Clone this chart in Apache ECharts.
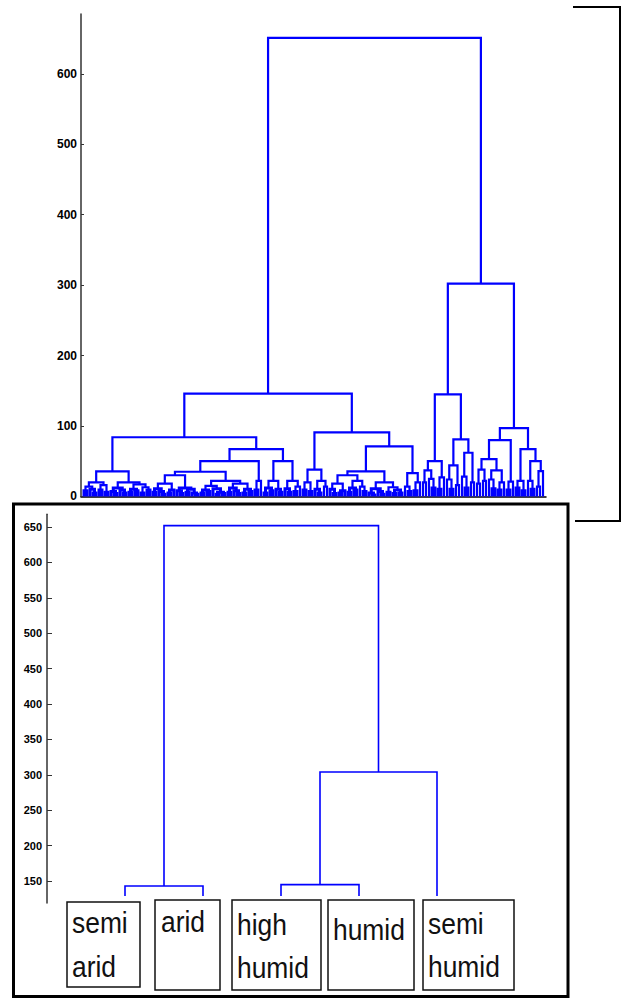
<!DOCTYPE html>
<html>
<head>
<meta charset="utf-8">
<script src="https://cdn.jsdelivr.net/npm/echarts@6/dist/echarts.min.js"></script>
<style>
html,body{margin:0;padding:0;background:#fff;}
#chart{width:630px;height:998px;}
</style>
</head>
<body>
<div id="chart"></div>
<script>
// ---------------- DATA ----------------
// Tree nodes: [mergeHeight, leftChild, rightChild]; a leaf is 0.
// Upper panel: full dendrogram (154 leaves), heights.
const clusterLLL = [35.5,
  [20, [14, [8, 0, 0], [10, 0, [5, 0, 0]]], [16, [9, 0, 0], [6, 0, 0]]],
  [20, [12, [7, 0, [4, 0, 0]], [9, 0, [5, 0, 0]]], [17, [10, [6, 0, 0], [8, 0, 0]], [13, [5, 0, 0], [9, 0, 0]]]]
];
const cluster176 = [30,
  [18, [11, [6, 0, 0], [7, 0, [3, 0, 0]]], [9, [5, 0, 0], 0]],
  [12, [8, 0, [4, 0, 0]], [10, [6, 0, 0], [5, 0, [3, 0, 0]]]]
];
const cluster230 = [22,
  [15, [9, [5, 0, 0], [7, 0, 0]], [11, 0, [6, [3, 0, 0], [4, 0, 0]]]],
  [18, [12, [6, 0, 0], [8, 0, [4, 0, 0]]], [10, [5, 0, 0], [7, 0, 0]]]
];
const clusterLLR = [67,
  [50, [35, cluster176, cluster230], [22, [9, 0, 0], 0]],
  [50, [22, [12, [5, 0, 0], [8, 0, 0]], [10, 0, [6, 0, 0]]], [22, [11, 0, [6, 0, 0]], [14, [7, 0, 0], 0]]]
];
const clusterLR = [91,
  [38, [20, [9, 0, 0], [7, 0, 0]], [22, [10, 0, [5, 0, 0]], [14, 0, 0]]],
  [71,
    [35.5,
      [30, [18, [10, 0, [4, 0, 0]], [8, [5, 0, 0], 0]], [22, [12, [6, 0, 0], [9, 0, 0]], [14, 0, [7, 0, 0]]]],
      [20, [11, [5, 0, [2, 0, 0]], [7, 0, [3, 0, 0]]], [13, [6, 0, 0], [9, [4, 0, 0], [5, 0, 0]]]]
    ],
    [33, [14, 0, [7, 0, 0]], [20, [8, 0, 0], 0]]
  ]
];
const clusterRL = [145,
  [50, [37, [20, 0, 0], [25, 0, [12, 0, 0]]], [27, [10, 0, 0], 0]],
  [81, [44, [24, 0, [10, 0, 0]], [16, 0, 0]], [62, [28, 0, [12, 0, 0]], [20, 0, 0]]]
];
const clusterRR = [97,
  [80, [53, [38, [18, 0, 0], [22, 0, 0]], [37, [24, 0, [11, 0, 0]], [20, [9, 0, 0], 0]]], [21, [9, 0, 0], 0]],
  [67, [22, [12, 0, 0], [8, 0, 0]], [50, [22, 0, [10, 0, 0]], [36, [14, 0, 0], 0]]]
];
const topTree = [651, [146, [84, clusterLLL, clusterLLR], clusterLR], [302, clusterRL, clusterRR]];
const topTicks = [0, 100, 200, 300, 400, 500, 600];

// Lower panel: five climate groups
const groupNames = ['semi\narid', 'arid', 'high\nhumid', 'humid', 'semi\nhumid'];
const bottomTree = [652, [143, 0, 0], [304, [145, 0, 0], 0]];
const bottomLeafBase = 129;
const bottomTicks = [150, 200, 250, 300, 350, 400, 450, 500, 550, 600, 650];

// ---------------- BUILD ----------------
function layoutTree(tree, base) {
  const segs = [];
  let idx = 0;
  function walk(n) {
    if (n === 0) { return { x: idx++, h: base }; }
    const a = walk(n[1]), b = walk(n[2]);
    segs.push([a.x, a.h, b.x, b.h, n[0]]);
    return { x: (a.x + b.x) / 2, h: n[0] };
  }
  walk(tree);
  return { segs, count: idx };
}
const topLayout = layoutTree(topTree, 0);
const botLayout = layoutTree(bottomTree, bottomLeafBase);

function uRender(width, lowWidth, lowLimit) {
  return function (params, api) {
    const h = api.value(4);
    const p1 = api.coord([api.value(0), api.value(1)]);
    const p2 = api.coord([api.value(0), h]);
    const p3 = api.coord([api.value(2), h]);
    const p4 = api.coord([api.value(2), api.value(3)]);
    return {
      type: 'polyline',
      shape: { points: [p1, p2, p3, p4] },
      style: { stroke: '#0000ff', fill: 'none', lineWidth: (h <= lowLimit ? lowWidth : width) }
    };
  };
}

// box layout (pixels) for lower-panel labels
const boxLayout = [
  { x: 67, y: 902, w: 73, h: 85, tx: 72, ty: [933, 977] },
  { x: 155, y: 900, w: 65, h: 90, tx: 161, ty: [932] },
  { x: 232, y: 900, w: 89, h: 90, tx: 237, ty: [935, 978] },
  { x: 328, y: 900, w: 86, h: 90, tx: 333, ty: [940] },
  { x: 423, y: 900, w: 91, h: 90, tx: 428, ty: [934, 977] }
];
const graphics = [];
graphics.push({ type: 'rect', shape: { x: 13.5, y: 504, width: 554.5, height: 492.5 },
  style: { fill: 'none', stroke: '#000', lineWidth: 3 }, silent: true });
graphics.push({ type: 'polyline', shape: { points: [[573, 7], [620, 7], [620, 521], [575, 521]] },
  style: { fill: 'none', stroke: '#000', lineWidth: 2 }, silent: true });
groupNames.forEach((name, i) => {
  const b = boxLayout[i];
  graphics.push({ type: 'rect', shape: { x: b.x, y: b.y, width: b.w, height: b.h },
    style: { fill: 'none', stroke: '#111', lineWidth: 1.5 }, silent: true });
  name.split('\n').forEach((line, k) => {
    graphics.push({ type: 'text', x: b.tx, y: b.ty[k] - 10.5, scaleX: 0.88, silent: true,
      style: { text: line, fill: '#111', fontSize: 30, fontFamily: 'Liberation Sans, Arial, sans-serif',
        align: 'left', verticalAlign: 'middle' } });
  });
});

const chart = echarts.init(document.getElementById('chart'), null, { renderer: 'svg' });
chart.setOption({
  animation: false,
  backgroundColor: '#fff',
  grid: [
    { left: 81, right: 84, top: 14, bottom: 501.6 },
    { left: 47, right: 115, top: 514.3, bottom: 95 }
  ],
  xAxis: [
    { gridIndex: 0, type: 'value', min: -1, max: topLayout.count, axisLabel: { show: false },
      axisTick: { show: false }, splitLine: { show: false },
      axisLine: { show: true, onZero: false, lineStyle: { color: '#000', width: 1.5 } } },
    { gridIndex: 1, type: 'value', min: -1, max: botLayout.count, show: false }
  ],
  yAxis: [
    { gridIndex: 0, type: 'value', min: 0, max: 685, splitLine: { show: false },
      axisLine: { show: true, onZero: false, lineStyle: { color: '#333', width: 1.5 } },
      axisTick: { show: true, inside: true, length: 3, customValues: topTicks, lineStyle: { color: '#333' } },
      axisLabel: { customValues: topTicks, margin: 4, color: '#000', fontSize: 12, fontWeight: 'bold',
        fontFamily: 'Liberation Sans, Arial, sans-serif' } },
    { gridIndex: 1, type: 'value', min: 119, max: 668, splitLine: { show: false },
      axisLine: { show: true, onZero: false, lineStyle: { color: '#333', width: 1.5 } },
      axisTick: { show: true, inside: true, length: 5, customValues: bottomTicks, lineStyle: { color: '#333' } },
      axisLabel: { customValues: bottomTicks, margin: 5, color: '#000', fontSize: 11, fontWeight: 'bold',
        fontFamily: 'Liberation Sans, Arial, sans-serif' } }
  ],
  series: [
    { type: 'custom', name: 'all stations', xAxisIndex: 0, yAxisIndex: 0, silent: true,
      dimensions: ['x1', 'y1', 'x2', 'y2', 'h'], encode: { x: [0, 2], y: [1, 3, 4] },
      renderItem: uRender(2.2, 3, 12), data: topLayout.segs },
    { type: 'custom', name: 'climate groups', xAxisIndex: 1, yAxisIndex: 1, silent: true,
      dimensions: ['x1', 'y1', 'x2', 'y2', 'h'], encode: { x: [0, 2], y: [1, 3, 4] },
      renderItem: uRender(1.6, 1.6, 0), data: botLayout.segs }
  ],
  graphic: graphics
});
</script>
</body>
</html>
